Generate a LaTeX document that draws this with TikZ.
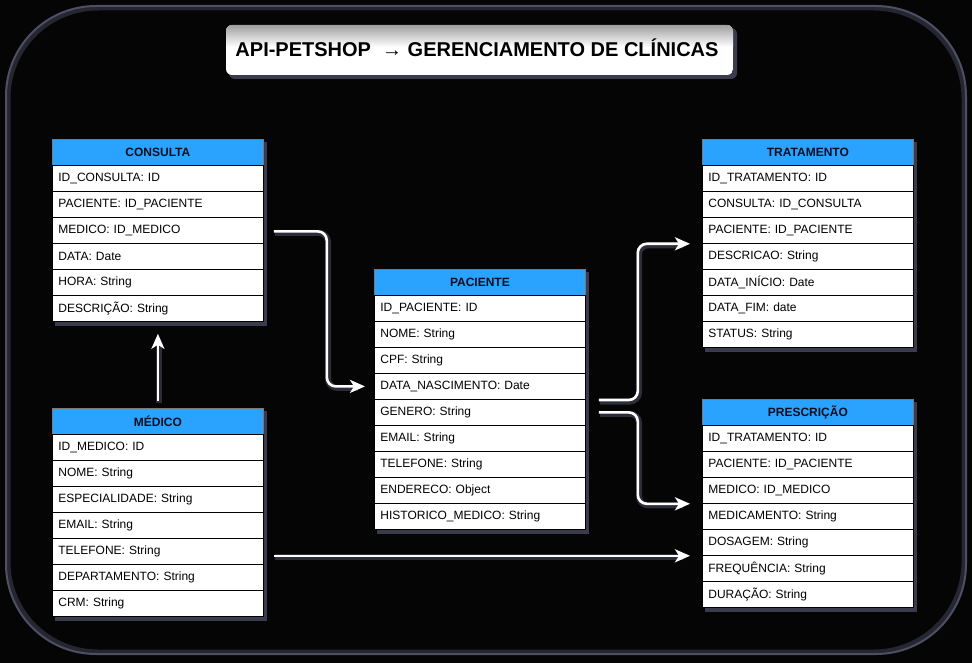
\documentclass[tikz,border=0pt]{standalone}
\usepackage{fontspec}
\setmainfont{Liberation Sans}
\usetikzlibrary{arrows.meta,calc}
\definecolor{bgc}{HTML}{050505}
\definecolor{bordc}{RGB}{78,78,100}
\definecolor{hdrc}{HTML}{29A3FF}
\definecolor{hdrline}{HTML}{7A7A7A}
\definecolor{hdrtext}{HTML}{0A0F1E}
\definecolor{shadowc}{RGB}{58,60,78}
\definecolor{glowc}{RGB}{70,72,92}
\newcommand\erdtable[6]{%
  \fill[shadowc] ({#2+3},{#3+3}) rectangle ({#2+215},{#3+26*(#4+1)+5});
  \node[hdr] (#1-0) at (#2,#3) {#5};
  \foreach \t [count=\i] in {#6} \node[fld] (#1-\i) at ({#2},{#3+26*\i}) {\t};
}
\begin{document}
\begin{tikzpicture}[x=1pt,y=-1pt,
  hdr/.style={draw=hdrline, fill=hdrc, line width=0.8pt, minimum width=211pt,
    minimum height=26pt, anchor=north west, inner sep=0pt,
    font=\bfseries\fontsize{12}{14}\selectfont, text=hdrtext},
  fld/.style={draw=black, fill=white, line width=0.8pt, minimum width=211pt,
    minimum height=26pt, anchor=north west, inner xsep=6pt, inner ysep=0pt,
    text width=199pt, align=left, font=\fontsize{12}{14}\selectfont, text=black},
  conn/.style={draw=white, line width=2.6pt, rounded corners=9pt,
    -{Stealth[length=15pt,width=13pt,inset=4pt]},
    preaction={draw=glowc, line width=6pt, opacity=0.6, -, shorten >=8pt,
      transform canvas={shift={(1.2pt,-1.5pt)}}}}
]
\useasboundingbox (0,0) rectangle (972,663);
\fill[bgc] (0,0) rectangle (972,663);
% outer frame
\draw[bordc!45!bgc, line width=5pt, rounded corners=90pt] (8,8) rectangle (964,652);
\draw[bordc, line width=2pt, rounded corners=90pt] (6,6) rectangle (966,654);

% title
\fill[shadowc, rounded corners=6pt] (229,28) rectangle (737,79);
\begin{scope}
  \clip[rounded corners=6pt] (226,25) rectangle (733,75);
  \fill[white] (226,25) rectangle (733,75);
  \shade[top color=gray!75, bottom color=white] (226,25) rectangle (733,47);
\end{scope}
\node[font=\bfseries\fontsize{20}{24}\selectfont, text=black] (title) at (477,48)
  {API-PETSHOP \ → GERENCIAMENTO DE CLÍNICAS};

% tables
\erdtable{cons}{52}{139}{6}{CONSULTA}{ID\_CONSULTA: ID, PACIENTE: ID\_PACIENTE, MEDICO: ID\_MEDICO, DATA: Date, HORA: String, DESCRIÇÃO: String}
\erdtable{med}{52}{408}{7}{MÉDICO}{ID\_MEDICO: ID, NOME: String, ESPECIALIDADE: String, EMAIL: String, TELEFONE: String, DEPARTAMENTO: String, CRM: String}
\erdtable{pac}{374}{269}{9}{PACIENTE}{ID\_PACIENTE: ID, NOME: String, CPF: String, DATA\_NASCIMENTO: Date, GENERO: String, EMAIL: String, TELEFONE: String, ENDERECO: Object, HISTORICO\_MEDICO: String}
\erdtable{trat}{702}{139}{7}{TRATAMENTO}{ID\_TRATAMENTO: ID, CONSULTA: ID\_CONSULTA, PACIENTE: ID\_PACIENTE, DESCRICAO: String, DATA\_INÍCIO: Date, DATA\_FIM: date, STATUS: String}
\erdtable{presc}{702}{399}{7}{PRESCRIÇÃO}{ID\_TRATAMENTO: ID, PACIENTE: ID\_PACIENTE, MEDICO: ID\_MEDICO, MEDICAMENTO: String, DOSAGEM: String, FREQUÊNCIA: String, DURAÇÃO: String}

% connectors
\draw[conn] ($(cons-3.east)+(10,1)$) -- ++(53,0) |- ($(pac-4.west)+(-9,0)$);
\draw[conn] ($(pac-5.north east)+(13,1)$) -- ++(39,0) |- ($(trat-3.south west)+(-12,0)$);
\draw[conn] ($(pac-5.east)+(13,0)$) -- ++(39,0) |- ($(presc-3.south west)+(-12,0)$);
\draw[conn] ($(med-0.north)+(0,-7)$) -- ($(cons-6.south)+(0,12)$);
\coordinate (a5) at ($(presc-5.south west)+(-12,0)$);
\coordinate (s5) at ($(med-5.east)+(10,0)$);
\draw[conn] (s5 |- a5) -- (a5);
\end{tikzpicture}
\end{document}
